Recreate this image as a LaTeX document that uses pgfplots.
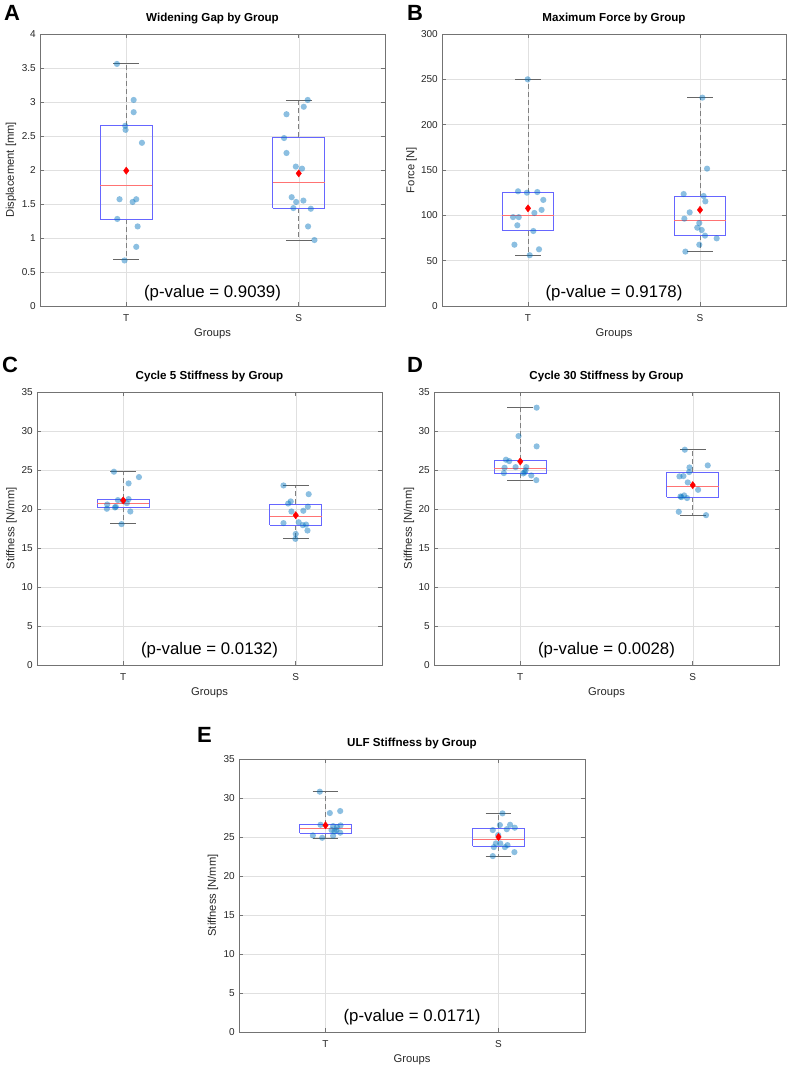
\documentclass[border=0pt]{standalone}
\usepackage{pgfplots}
\pgfplotsset{compat=1.18}
\usepackage{fontspec}
\setmainfont{Liberation Sans}
\definecolor{mblue}{rgb}{0,0.447,0.741}
\definecolor{boxc}{rgb}{0.4,0.4,1}
\definecolor{medc}{rgb}{1,0.45,0.45}
\pgfplotsset{
 panel/.style={scale only axis, xmin=0.5, xmax=2.5, xtick={1,2}, xticklabels={T,S}, ymin=0,
  grid=major, major grid style={draw=black!12, line width=0.5pt},
  axis line style={draw=black!55, line width=0.6pt},
  tick style={draw=black!55, line width=0.6pt}, tick align=inside, major tick length=4pt,
  /pgf/number format/assume math mode=true,
  ticklabel style={font=\fontsize{10}{12}\selectfont, text=black!85},
  xticklabel style={anchor=north, inner sep=0pt, yshift=-8pt},
  yticklabel style={anchor=east, inner sep=0pt, xshift=-4pt},
  title style={font=\bfseries\fontsize{11.6}{14}\selectfont, anchor=south, at={(0.5,1)}, inner sep=0pt, yshift=4pt},
  xlabel={Groups},
  xlabel style={font=\fontsize{11.2}{13}\selectfont, text=black!85, at={(axis description cs:0.5,0)}, anchor=north, inner sep=0pt, yshift=-22pt},
  ylabel style={font=\fontsize{11.2}{13}\selectfont, text=black!85, anchor=center},
 },
 whisk/.style={draw=black!50, line width=0.9pt, dash pattern=on 5pt off 3pt},
 capst/.style={draw=black!60, line width=0.9pt},
 boxst/.style={draw=boxc, line width=0.9pt, line join=miter},
 medst/.style={draw=medc, line width=0.9pt},
 pts/.style={only marks, mark=*, mark size=3.1pt, color=mblue, draw opacity=0, fill opacity=0.45},
 meanst/.style={only marks, mark=diamond*, mark size=3.6pt, color=red},
}
% pos, lower whisker, lower quartile, median, upper quartile, upper whisker
\newcommand{\bx}[6]{%
 \pgfmathsetmacro\bl{#1-0.15}\pgfmathsetmacro\br{#1+0.15}%
 \pgfmathsetmacro\cl{#1-0.075}\pgfmathsetmacro\cright{#1+0.075}%
 \addplot[whisk] coordinates {(#1,#3) (#1,#2)};
 \addplot[whisk] coordinates {(#1,#5) (#1,#6)};
 \addplot[capst] coordinates {(\cl,#2) (\cright,#2)};
 \addplot[capst] coordinates {(\cl,#6) (\cright,#6)};
 \addplot[boxst] coordinates {(\bl,#3) (\br,#3) (\br,#5) (\bl,#5) (\bl,#3)};
 \addplot[medst] coordinates {(\bl,#4) (\br,#4)};
}
\newcommand{\letter}[3]{\node[anchor=north west, inner sep=0pt, font=\bfseries\fontsize{22}{26}\selectfont] at (#1pt,#2pt) {#3};}
\begin{document}
\begin{tikzpicture}
\path[use as bounding box] (0,0) rectangle (789pt,1066pt);
\letter{4}{1061}{A}
\letter{407}{1061}{B}
\letter{2}{709}{C}
\letter{407}{709}{D}
\letter{197}{339}{E}
% ---------------- A
\begin{axis}[panel, at={(40pt,760pt)}, anchor=south west, width=345pt, height=272pt,
  ymax=4, ytick={0,0.5,...,4}, title={Widening Gap by Group}, ylabel={Displacement [mm]},
  ylabel style={at={(axis description cs:-0.084,0.5)}}]
\bx{1}{0.68}{1.28}{1.78}{2.65}{3.56}
\bx{2}{0.97}{1.44}{1.81}{2.48}{3.03}
\addplot[pts] coordinates {(0.946,3.56) (1.043,3.03) (1.043,2.85) (0.994,2.65) (0.996,2.59) (1.091,2.40) (0.961,1.57) (1.037,1.53) (1.058,1.57) (0.948,1.28) (1.066,1.17) (1.058,0.87) (0.990,0.67)};
\addplot[pts] coordinates {(2.052,3.03) (2.029,2.93) (1.929,2.82) (1.915,2.47) (1.929,2.25) (1.983,2.05) (2.019,2.02) (1.959,1.60) (1.985,1.53) (2.027,1.55) (1.969,1.44) (2.070,1.43) (2.054,1.17) (2.091,0.97)};
\addplot[meanst] coordinates {(1,1.99) (2,1.95)};
\node[font=\fontsize{16.8}{20}\selectfont] at (axis description cs:0.5,0.046) {(p-value = 0.9039)};
\end{axis}
% ---------------- B
\begin{axis}[panel, at={(442pt,760pt)}, anchor=south west, width=344pt, height=272pt,
  ymax=300, ytick={0,50,...,300}, title={Maximum Force by Group}, ylabel={Force [N]},
  ylabel style={at={(axis description cs:-0.0887,0.5)}}]
\bx{1}{56}{83}{100.4}{125}{250}
\bx{2}{60}{78}{94}{121}{230}
\addplot[pts] coordinates {(0.998,250) (0.942,126.5) (0.994,125) (1.054,125.7) (1.089,117) (1.079,106) (1.037,102.6) (0.913,98) (0.946,98) (0.938,89) (1.031,82.7) (0.921,67.6) (1.064,62.5) (1.010,56)};
\addplot[pts] coordinates {(2.014,229.8) (2.041,151.5) (1.905,123.5) (2.021,121.3) (2.031,115.4) (1.940,103.3) (1.909,96.3) (1.996,91.5) (1.984,86.4) (2.010,83.8) (2.029,77.6) (2.097,74.6) (1.996,67.6) (1.915,60)};
\addplot[meanst] coordinates {(1,107.7) (2,106)};
\node[font=\fontsize{16.8}{20}\selectfont] at (axis description cs:0.5,0.046) {(p-value = 0.9178)};
\end{axis}
% ---------------- C
\begin{axis}[panel, at={(37pt,401pt)}, anchor=south west, width=345pt, height=273pt,
  ymax=35, ytick={0,5,...,35}, title={Cycle 5 Stiffness by Group}, ylabel={Stiffness [N/mm]},
  ylabel style={at={(axis description cs:-0.0739,0.5)}}]
\bx{1}{18.1}{20.2}{20.75}{21.22}{24.78}
\bx{2}{16.17}{17.93}{19.0}{20.62}{23.02}
\addplot[pts] coordinates {(0.946,24.78) (1.091,24.09) (1.031,23.28) (0.969,21.14) (1.031,21.27) (0.998,21.05) (1.021,20.75) (0.907,20.58) (0.957,20.28) (0.905,20.03) (0.952,20.2) (1.041,19.68) (0.990,18.06)};
\addplot[pts] coordinates {(1.929,23.02) (2.075,21.9) (1.971,20.97) (1.956,20.7) (2.070,20.3) (1.975,19.68) (2.044,19.77) (1.929,18.19) (2.017,18.3) (2.041,17.93) (2.060,18.0) (2.068,17.24) (2.000,16.8) (1.998,16.17)};
\addplot[meanst] coordinates {(1,21.1) (2,19.2)};
\node[font=\fontsize{16.8}{20}\selectfont] at (axis description cs:0.5,0.055) {(p-value = 0.0132)};
\end{axis}
% ---------------- D
\begin{axis}[panel, at={(434pt,401pt)}, anchor=south west, width=345pt, height=273pt,
  ymax=35, ytick={0,5,...,35}, title={Cycle 30 Stiffness by Group}, ylabel={Stiffness [N/mm]},
  ylabel style={at={(axis description cs:-0.0725,0.5)}}]
\bx{1}{23.7}{24.6}{25.25}{26.27}{33}
\bx{2}{19.21}{21.52}{22.94}{24.69}{27.6}
\addplot[pts] coordinates {(1.095,32.99) (0.990,29.35) (1.095,28.03) (0.917,26.32) (0.936,26.14) (0.909,25.29) (0.973,25.37) (1.035,25.37) (1.031,24.95) (0.905,24.6) (1.017,24.56) (1.025,24.69) (1.064,24.3) (1.093,23.7)};
\addplot[pts] coordinates {(1.954,27.6) (2.087,25.59) (1.981,25.33) (1.979,24.73) (1.923,24.18) (1.946,24.22) (1.971,23.41) (2.031,22.46) (1.929,21.61) (1.950,21.74) (1.934,21.52) (1.967,21.4) (1.919,19.64) (2.077,19.21)};
\addplot[meanst] coordinates {(1,26.1) (2,23.06)};
\node[font=\fontsize{16.8}{20}\selectfont] at (axis description cs:0.5,0.055) {(p-value = 0.0028)};
\end{axis}
% ---------------- E
\begin{axis}[panel, at={(239pt,34pt)}, anchor=south west, width=346pt, height=273pt,
  ymax=35, ytick={0,5,...,35}, title={ULF Stiffness by Group}, ylabel={Stiffness [N/mm]},
  ylabel style={at={(axis description cs:-0.0751,0.5)}}]
\bx{1}{24.82}{25.46}{26.1}{26.6}{30.81}
\bx{2}{22.55}{23.79}{24.69}{26.1}{28.03}
\addplot[pts] coordinates {(0.967,30.81) (1.085,28.33) (1.025,28.07) (0.971,26.57) (1.044,26.4) (1.087,26.49) (1.066,26.27) (1.035,25.89) (1.052,25.72) (1.085,25.55) (0.927,25.2) (1.044,25.16) (0.981,24.9) (1.064,25.89)};
\addplot[pts] coordinates {(2.023,28.03) (2.067,26.57) (2.008,26.53) (2.094,26.19) (1.967,25.89) (2.048,26.0) (1.998,25.25) (1.985,24.18) (2.010,24.18) (2.052,23.96) (1.973,23.7) (2.037,23.7) (2.092,23.06) (1.967,22.55)};
\addplot[meanst] coordinates {(1,26.5) (2,25.0)};
\node[font=\fontsize{16.8}{20}\selectfont] at (axis description cs:0.5,0.055) {(p-value = 0.0171)};
\end{axis}
\end{tikzpicture}
\end{document}
